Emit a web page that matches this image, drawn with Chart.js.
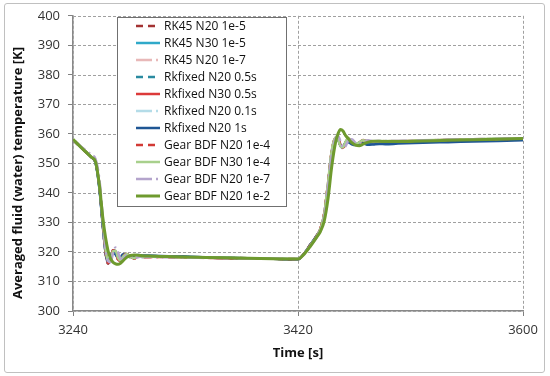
<!DOCTYPE html>
<html>
<head>
<meta charset="utf-8">
<script src="https://cdn.jsdelivr.net/npm/chart.js@4.4.0/dist/chart.umd.min.js"></script>
<style>
  html, body { margin: 0; padding: 0; background: #fff; }
  #wrap { position: relative; width: 550px; height: 376px; }
  #frame { position: absolute; left: 4px; top: 3px; width: 539px; height: 368px; border: 1px solid #c0c0c0; border-radius: 3px; pointer-events: none; }
</style>
</head>
<body>
<div id="wrap">
  <canvas id="temp" width="550" height="376"></canvas>
  <div id="frame"></div>
</div>
<script>
// time points [s]
const times = [3240,3245,3250,3255,3258, 3261,3264,3266,3268,
  3270,3272,3274,3276,3278,3280,3283,3286,3289,3292,3296,3300,
  3310,3320,3340,3360,3380,3400,3420,
  3425,3430,3435,3438,3441,3444,3447,3450,
  3452,3454,3456,3458,3460,3463,3466,3469,3472,3476,3480,3485,3490,
  3500,3520,3540,3560,3580,3600];

const labels = ['RK45 N20 1e-5','RK45 N30 1e-5','RK45 N20 1e-7','Rkfixed N20 0.5s','Rkfixed N30 0.5s',
  'Rkfixed N20 0.1s','Rkfixed N20 1s','Gear BDF N20 1e-4','Gear BDF N30 1e-4','Gear BDF N20 1e-7','Gear BDF N20 1e-2'];

const rk45N20e5 = [358.0,356.0,354.0,352.0,350.5, 343,329,320,316.0,
  317.5,320.5,320.0,317.5,317.0,318.5,319.3,318.2,317.8,318.6,318.3,318.4,
  318.5,318.4,318.2,318.0,317.9,317.8,317.6,
  319.5,322.5,325.5,328,333,343,354,358.5,
  358.5,356.0,355.2,357.0,358.3,357.5,356.5,357.0,357.8,357.5,357.2,357.5,357.3,
  357.4,357.6,357.8,358.0,358.1,358.3];
const rk45N30e5 = [358.0,356.0,354.0,352.0,350.3, 342,328.5,320,316.5,
  318,320.3,319.8,317.8,317.5,318.8,319.0,318.3,318.2,318.7,318.5,318.5,
  318.5,318.4,318.2,318.0,317.8,317.7,317.5,
  319.5,322.5,325.5,327.8,332.5,342.5,353.5,358,
  358.3,356.2,355.5,357.0,358.0,357.0,356.5,357.0,357.3,357.0,356.9,357.0,357.0,
  357.1,357.3,357.5,357.7,357.9,358.1];
const rk45N20e7 = [358.0,356.2,354.3,352.5,351.0, 344,330,321,317,
  317.0,320.8,320.5,317.5,317.2,318.8,319.2,318.0,318.0,318.6,318.2,318.2,
  318.2,318.2,318.0,317.9,317.8,317.7,317.6,
  319.3,322.3,325.3,327.8,333,343,353.5,358.8,
  359.0,356.5,355.0,356.5,358.5,357.8,356.5,356.8,357.7,357.6,357.4,357.6,357.6,
  357.6,357.8,358.0,358.2,358.3,358.5];
const rkfN20h05 = [358.0,356.0,354.0,352.0,350.4, 342.5,328.5,320,316.2,
  317.8,320.6,320.2,317.6,317.3,318.6,319.2,318.2,318.0,318.7,318.4,318.4,
  318.4,318.4,318.2,318.0,317.8,317.7,317.5,
  319.5,322.5,325.5,327.8,332.8,342.8,353.8,358.3,
  358.5,356.0,355.3,357.0,358.2,357.2,356.4,357.0,357.5,357.2,357.0,357.3,357.2,
  357.3,357.5,357.7,357.9,358.0,358.2];
const rkfN30h05 = [358.0,356.0,354.0,352.0,350.4, 342.5,328.5,320,316.3,
  317.6,320.4,320.0,317.6,317.2,318.7,319.2,318.1,318.0,318.7,318.3,318.3,
  318.4,318.3,318.1,317.9,317.8,317.7,317.5,
  319.5,322.5,325.5,328,333,343,354,358.4,
  358.6,356.1,355.3,357.0,358.3,357.4,356.4,357.0,357.7,357.4,357.2,357.5,357.4,
  357.5,357.7,357.9,358.1,358.2,358.4];
const rkfN20h01 = [358.0,356.1,354.1,352.2,350.7, 343.5,329.5,320.5,316.5,
  317.4,320.8,320.3,317.4,317.1,318.8,319.3,318.0,317.9,318.7,318.2,318.3,
  318.3,318.3,318.1,318.0,317.8,317.7,317.6,
  319.4,322.4,325.4,327.9,333,343,353.8,358.6,
  358.8,356.3,355.1,356.8,358.4,357.6,356.5,356.9,357.7,357.5,357.3,357.5,357.5,
  357.5,357.7,357.9,358.1,358.3,358.4];
const rkfN20h1 = [358.0,356.0,354.0,352.0,350.2, 342,328,320,316.6,
  318.5,320.0,319.2,318.0,318.2,319.2,319.0,318.5,318.8,319.0,318.8,318.8,
  318.6,318.5,318.3,318.0,317.9,317.7,317.5,
  319.5,322.5,325.5,327.5,332,342,353,357.5,
  358.0,356.0,355.8,357.0,357.2,356.5,356.2,356.6,356.8,356.3,356.4,356.6,356.5,
  356.7,357.0,357.2,357.4,357.6,357.8];
const gearN20e4 = [358.0,356.0,354.0,352.0,350.5, 343,329,320.5,316.3,
  317.3,320.6,320.2,317.4,317.0,318.6,319.3,318.1,317.8,318.6,318.2,318.3,
  318.3,318.2,318.1,317.9,317.8,317.7,317.6,
  319.4,322.4,325.4,328,333.2,343.2,354.2,358.6,
  358.7,356.0,355.1,356.9,358.4,357.6,356.5,357.0,357.9,357.6,357.3,357.6,357.5,
  357.5,357.7,357.9,358.1,358.2,358.4];
const gearN30e4 = [358.1,356.1,354.1,352.1,350.6, 343,329.5,321,317,
  317.2,320.2,320.4,318.0,317.2,318.4,319.3,318.3,317.9,318.5,318.4,318.4,
  318.4,318.3,318.1,318.0,317.9,317.8,317.7,
  319.4,322.3,325.3,327.8,333,343.5,354.5,358.8,
  358.2,355.8,355.5,357.3,358.5,357.5,356.7,357.1,357.8,357.6,357.4,357.6,357.6,
  357.6,357.8,358.0,358.2,358.4,358.5];
const gearN20e7 = [358.0,356.2,354.5,352.8,351.5, 345,331,321.5,317,
  316.5,319.5,321.5,320.0,317.8,317.6,319.0,318.8,317.9,318.2,318.6,318.4,
  318.3,318.2,318.1,317.9,317.8,317.7,317.6,
  319.2,322.0,325.0,327.5,332,342,353,358.5,
  359.3,357.5,355.3,355.8,357.5,358.2,357.0,356.6,357.3,357.8,357.5,357.6,357.6,
  357.6,357.8,358.0,358.2,358.3,358.5];
const gearN20e2 = [358.2,356.0,354.0,352.0,350.6, 343,331,325,320.5,
  317.8,316.5,316.0,315.8,316.2,317.0,318.2,318.8,319.0,318.9,318.7,318.6,
  318.5,318.4,318.2,318.0,317.9,317.7,317.6,
  319.3,322.0,325.0,327.0,330.5,338,349,357,
  360.0,361.5,361.0,359.5,358.5,357.0,356.2,356.0,356.5,357.2,357.5,357.5,357.4,
  357.4,357.6,357.8,358.0,358.2,358.4];

const series = [rk45N20e5, rk45N30e5, rk45N20e7, rkfN20h05, rkfN30h05, rkfN20h01, rkfN20h1,
  gearN20e4, gearN30e4, gearN20e7, gearN20e2];
const colors = ['#a33232','#2fa9c9','#e8b8b8','#2a8aa0','#dc3a3a','#b4dce8','#1f5694',
  '#d23a35','#a8d08c','#b4a4cc','#6e9a2e'];
const dashes = [[7,5],[],[16,4,2,4],[7,5],[],[16,4,2,4],[],[7,5],[],[16,4,2,4],[]];
const widths = [2.5,2.5,2.5,2.5,2.5,2.5,2.5,2.5,2.5,2.5,3];

const datasets = series.map((vals, i) => ({
  label: labels[i],
  data: times.map((t, k) => ({ x: t, y: vals[k] })),
  borderColor: colors[i],
  borderWidth: widths[i],
  borderDash: dashes[i],
  pointRadius: 0,
  fill: false,
  cubicInterpolationMode: 'monotone',
  order: series.length - 1 - i
}));

// dashed grid lines at the scale ticks
const dashedGrid = {
  id: 'dashedGrid',
  beforeDatasetsDraw(chart) {
    const { ctx, chartArea: a, scales } = chart;
    ctx.save();
    ctx.strokeStyle = '#a0a0a0';
    ctx.lineWidth = 1;
    ctx.setLineDash([3, 2]);
    scales.y.ticks.forEach(t => {
      const y = Math.round(scales.y.getPixelForValue(t.value)) + 0.5;
      ctx.beginPath(); ctx.moveTo(a.left, y); ctx.lineTo(a.right, y); ctx.stroke();
    });
    scales.x.ticks.forEach(t => {
      const x = Math.round(scales.x.getPixelForValue(t.value)) + 0.5;
      ctx.beginPath(); ctx.moveTo(x, a.top); ctx.lineTo(x, a.bottom); ctx.stroke();
    });
    ctx.restore();
  }
};

// legend drawn as a boxed list inside the plot
const boxLegend = {
  id: 'boxLegend',
  afterDatasetsDraw(chart) {
    const ctx = chart.ctx;
    ctx.save();
    ctx.fillStyle = '#fff';
    ctx.fillRect(117, 17, 169, 189);
    ctx.strokeStyle = '#707070';
    ctx.lineWidth = 1;
    ctx.strokeRect(117.5, 17.5, 169, 189);
    ctx.font = '12px "Open Sans"';
    ctx.textBaseline = 'middle';
    chart.data.datasets.forEach((d, i) => {
      const y = 26 + i * 17;
      ctx.strokeStyle = d.borderColor;
      ctx.lineWidth = d.borderWidth;
      ctx.setLineDash(d.borderDash);
      ctx.beginPath();
      ctx.moveTo(136, y);
      ctx.lineTo(160, y);
      ctx.stroke();
      ctx.setLineDash([]);
      ctx.fillStyle = '#111';
      ctx.fillText(d.label, 164, y + 0.5);
    });
    ctx.restore();
  }
};

const yTitle = {
  id: 'yTitle',
  afterDraw(chart) {
    const ctx = chart.ctx;
    ctx.save();
    ctx.translate(18, 173);
    ctx.rotate(-Math.PI / 2);
    ctx.font = 'bold 13px "Open Sans"';
    ctx.fillStyle = '#111';
    ctx.textAlign = 'center';
    ctx.textBaseline = 'middle';
    ctx.fillText('Averaged fluid (water) temperature [K]', 0, 0);
    ctx.restore();
  }
};

new Chart(document.getElementById('temp'), {
  type: 'line',
  data: { datasets: datasets },
  plugins: [dashedGrid, boxLegend, yTitle],
  options: {
    responsive: false,
    animation: false,
    devicePixelRatio: 1,
    layout: { padding: { top: 14, right: 27, left: 0, bottom: 0 } },
    plugins: { legend: { display: false }, tooltip: { enabled: false } },
    scales: {
      x: {
        type: 'linear',
        min: 3240, max: 3600,
        afterFit: s => { s.height = 65; },
        ticks: { stepSize: 180, padding: 6, color: '#333', font: { family: 'Open Sans', size: 13 },
          callback: v => String(v) },
        grid: { drawOnChartArea: false, tickColor: '#808080', tickLength: 5 },
        border: { color: '#888', width: 1.5 },
        title: { display: true, text: 'Time [s]', color: '#111', padding: { top: 0, bottom: 15 },
          font: { family: 'Open Sans', size: 13, weight: 'bold' } }
      },
      y: {
        min: 300, max: 400,
        afterFit: s => { s.width = 73; },
        ticks: { stepSize: 10, padding: 8, color: '#333', font: { family: 'Open Sans', size: 13 },
          callback: v => String(v) },
        grid: { drawOnChartArea: false, tickColor: '#808080', tickLength: 5 },
        border: { color: '#888', width: 1.5 }
      }
    }
  }
});
</script>
</body>
</html>
